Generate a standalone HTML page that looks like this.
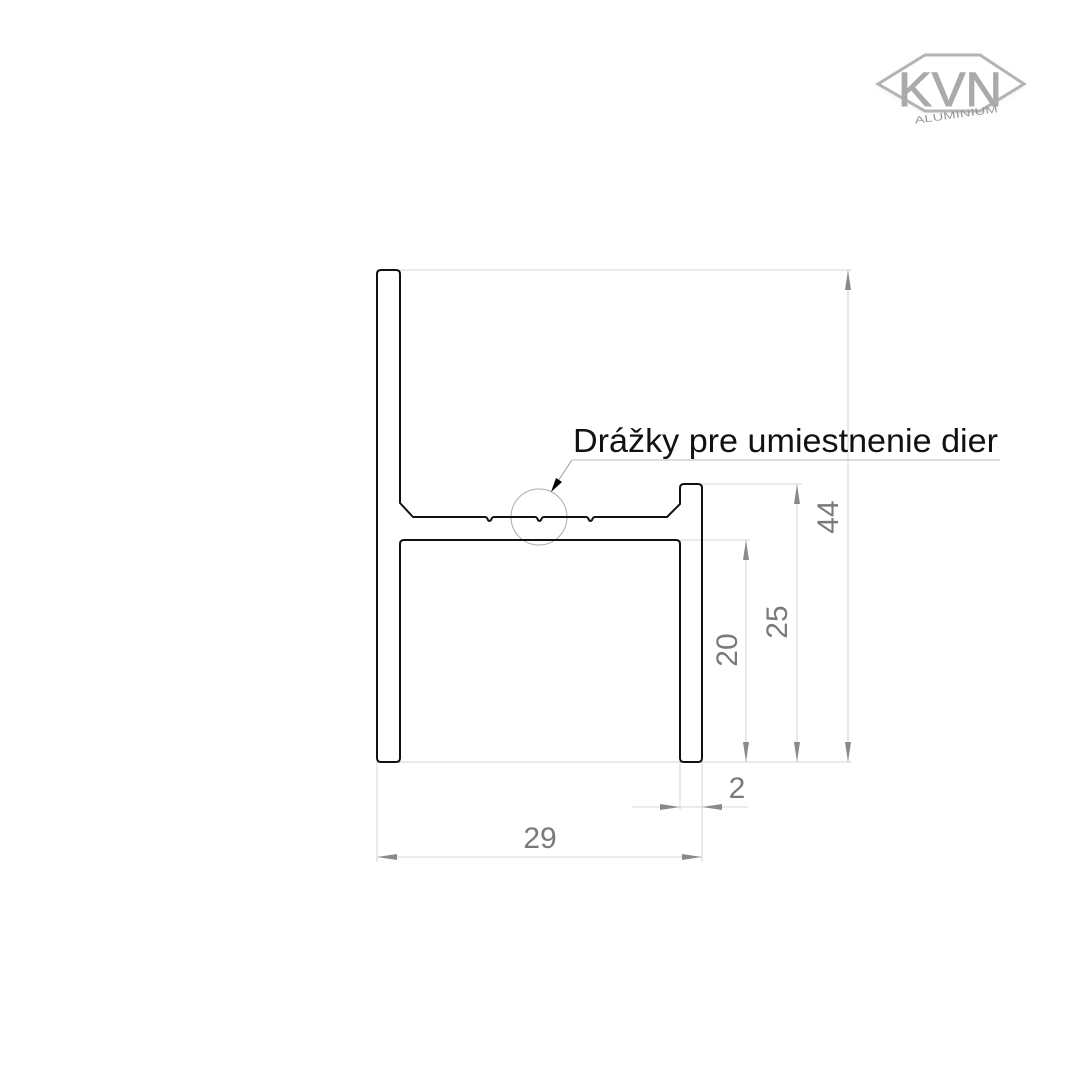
<!DOCTYPE html>
<html><head><meta charset="utf-8"><style>html,body{margin:0;padding:0;background:#fff}svg{display:block}</style></head>
<body>
<svg width="1081" height="1080" viewBox="0 0 1081 1080" xmlns="http://www.w3.org/2000/svg">
<defs><filter id="sh" x="-20%" y="-30%" width="140%" height="160%"><feGaussianBlur stdDeviation="3"/></filter></defs>
<!-- logo -->
<g>
<polygon points="878,85 925,56 980,56 1024,85 980,112 925,112" fill="#ccc" filter="url(#sh)" opacity="0.5"/>
<polygon points="878,84 925,55 980,55 1024,84 980,111 925,111" fill="#fff" stroke="#b4b4b4" stroke-width="3"/>
<text x="950" y="106" text-anchor="middle" font-family="Liberation Sans, sans-serif" font-size="48" fill="#aaa" stroke="#aaa" stroke-width="1" textLength="104" lengthAdjust="spacingAndGlyphs">KVN</text>
<text x="956" y="118" text-anchor="middle" font-family="Liberation Sans, sans-serif" font-size="10" fill="#999" textLength="84" lengthAdjust="spacingAndGlyphs" transform="rotate(-8 956 114)">ALUMINIUM</text>
</g>
<!-- dimension lines -->
<g stroke="#d4d4d4" stroke-width="1" fill="none">
<line x1="400" y1="270" x2="852" y2="270"/>
<line x1="702" y1="484" x2="802" y2="484"/>
<line x1="680" y1="540" x2="750" y2="540"/>
<line x1="377" y1="762" x2="852" y2="762"/>
<line x1="377" y1="762" x2="377" y2="862"/>
<line x1="702" y1="762" x2="702" y2="862"/>
<line x1="680" y1="762" x2="680" y2="810"/>
<line x1="632" y1="807" x2="748" y2="807"/>
<line x1="377" y1="857" x2="702" y2="857"/>
<line x1="848" y1="270" x2="848" y2="762"/>
<line x1="797" y1="484" x2="797" y2="762"/>
<line x1="746" y1="540" x2="746" y2="762"/>
</g>
<g fill="#8a8a8a">
<polygon points="848,270 845,290 851,290"/><polygon points="848,762 845,742 851,742"/>
<polygon points="797,484 794,504 800,504"/><polygon points="797,762 794,742 800,742"/>
<polygon points="746,540 743,560 749,560"/><polygon points="746,762 743,742 749,742"/>
<polygon points="680,807 660,804 660,810"/><polygon points="702,807 722,804 722,810"/>
<polygon points="377,857 397,854 397,860"/><polygon points="702,857 682,854 682,860"/>
</g>
<g font-family="Liberation Sans, sans-serif" font-size="30" fill="#7a7a7a" text-anchor="middle">
<text x="0" y="0" transform="translate(838,517) rotate(-90)">44</text>
<text x="0" y="0" transform="translate(787,622) rotate(-90)">25</text>
<text x="0" y="0" transform="translate(737,650) rotate(-90)">20</text>
<text x="737" y="798">2</text>
<text x="540" y="848">29</text>
</g>
<!-- callout -->
<circle cx="539" cy="517" r="28" fill="none" stroke="#aaa" stroke-width="1"/>
<line x1="572" y1="460" x2="1000" y2="460" stroke="#bbb" stroke-width="1"/>
<line x1="572" y1="460" x2="554" y2="487" stroke="#999" stroke-width="1"/>
<polygon points="551,492 556,478 562,482" fill="#000"/>
<text x="573" y="452" font-family="Liberation Sans, sans-serif" font-size="33" fill="#111" textLength="425" lengthAdjust="spacingAndGlyphs">Drážky pre umiestnenie dier</text>
<!-- profile -->
<path d="M377,274 Q377,270 381,270 L396,270 Q400,270 400,274 L400,503 L413,517 L485,517 Q487,517 488,520 Q489,522 491,520 Q492,517 494,517 L535,517 Q537,517 538,520 Q539,522 541,520 Q542,517 544,517 L586,517 Q588,517 589,520 Q590,522 592,520 Q593,517 595,517 L667,517 L680,504 L680,488 Q680,484 684,484 L698,484 Q702,484 702,488 L702,758 Q702,762 698,762 L684,762 Q680,762 680,758 L680,544 Q680,540 676,540 L404,540 Q400,540 400,544 L400,758 Q400,762 396,762 L381,762 Q377,762 377,758 Z" fill="none" stroke="#111" stroke-width="2" stroke-linejoin="round"/>
</svg>
</body></html>
